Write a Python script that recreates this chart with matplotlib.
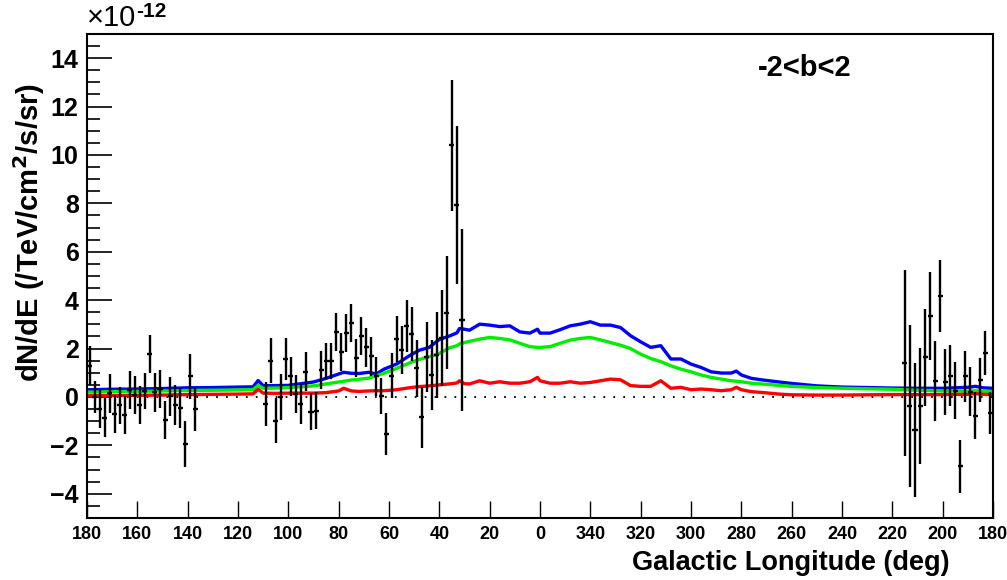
import numpy as np
import matplotlib.pyplot as plt
from matplotlib.ticker import MultipleLocator, FixedLocator

plt.rcParams['font.family'] = ['Liberation Sans', 'DejaVu Sans']

# flux points, galactic longitude (deg, 180..-180) , value (1e-12), error
lon_a = [179, 177, 175, 173, 171, 169, 167, 165, 163, 161, 159, 157, 155, 153,
         151, 149, 147, 145, 143, 141, 139, 137]
val_a = [1.3, 0.0, -0.5, -0.85, 0.15, -0.7, -0.35, -0.73, 0.3, 0.08, -0.33, 0.25,
         1.77, 0.2, 0.33, -0.95, 0.03, -0.33, -0.45, -1.95, 0.85, -0.5]
err_a = [0.8, 0.65, 0.8, 0.8, 0.8, 0.8, 0.78, 0.78, 0.78, 0.78, 0.78, 0.75,
         0.78, 0.8, 0.8, 0.8, 0.8, 0.82, 0.82, 0.95, 0.93, 0.9]

lon_b = [109, 107, 105, 103, 101, 99, 97, 95, 93, 91, 89, 87, 85, 83, 81, 79,
         77, 75, 73, 71, 69, 67, 65, 63, 61, 59, 57, 55, 53, 51, 49, 47, 45, 43,
         41, 39, 37, 35, 33, 31]
val_b = [-0.28, 1.5, -0.98, 0.0, 1.57, 0.85, 0.12, -0.29, 1.04, -0.6, -0.56, 1.13,
         1.5, 1.5, 2.69, 1.87, 2.64, 3.05, 1.6, 2.53, 2.05, 1.68, 0.85, 0.03,
         -1.53, 0.88, 2.39, 1.94, 2.94, 2.6, 1.18, -0.84, 1.66, 0.91, 1.72, 2.44,
         3.49, 10.4, 7.93, 3.19]
err_b = [0.9, 0.92, 0.92, 0.93, 0.85, 0.8, 0.8, 0.82, 0.8, 0.78, 0.76, 0.78,
         0.75, 0.74, 0.78, 0.79, 0.77, 0.78, 0.79, 0.78, 0.8, 0.8, 0.8, 0.75,
         0.88, 0.93, 0.96, 1.0, 1.07, 1.1, 1.17, 1.27, 1.44, 1.44, 1.78, 2.0,
         2.34, 2.7, 3.27, 3.76]

lon_c = [-145, -147, -149, -151, -153, -155, -157, -159, -161, -163, -165, -167,
         -169, -171, -173, -175, -177, -179]
val_c = [1.4, -0.36, -1.36, -0.36, 1.64, 3.35, 0.65, 4.18, 0.63, 0.88, 0.26, -2.86,
         0.85, 0.22, -0.77, 0.7, 1.81, -0.66]
err_c = [3.83, 3.35, 2.78, 2.4, 2.0, 1.83, 1.65, 1.48, 1.37, 1.26, 1.17, 1.1,
         1.05, 1.0, 0.96, 0.9, 0.9, 0.86]

# model curves (1e-12)
lon_m = [180, 170, 160, 150, 140, 130, 120, 114, 112, 110, 105, 100, 95, 90, 85,
         80, 78, 75, 72, 68, 65, 62, 57, 52, 48, 44, 40, 36, 33, 32, 30, 28, 24,
         20, 16, 12, 8, 4, 1, 0, -4, -8, -12, -16, -20, -24, -28, -32, -36, -40,
         -44, -48, -52, -56, -60, -64, -68, -72, -76, -78, -80, -84, -88, -95,
         -100, -110, -120, -130, -140, -150, -160, -170, -173, -176, -180]
blue = [0.30, 0.32, 0.33, 0.35, 0.38, 0.39, 0.41, 0.42, 0.68, 0.47, 0.47, 0.48,
        0.55, 0.62, 0.77, 0.95, 1.02, 0.98, 0.97, 1.02, 0.95, 1.15, 1.36, 1.70,
        1.93, 2.05, 2.38, 2.52, 2.65, 2.83, 2.80, 2.76, 3.01, 2.97, 2.91, 2.94,
        2.69, 2.64, 2.80, 2.64, 2.64, 2.78, 2.94, 3.01, 3.11, 2.97, 2.97, 2.87,
        2.53, 2.28, 2.05, 2.12, 1.57, 1.57, 1.36, 1.22, 1.04, 0.99, 0.99, 1.07,
        0.91, 0.77, 0.71, 0.62, 0.56, 0.46, 0.41, 0.39, 0.37, 0.36, 0.36, 0.40,
        0.44, 0.38, 0.36]
green = [0.20, 0.22, 0.23, 0.25, 0.27, 0.28, 0.29, 0.30, 0.48, 0.36, 0.37, 0.39,
         0.42, 0.46, 0.54, 0.62, 0.65, 0.70, 0.73, 0.78, 0.88, 0.98, 1.18, 1.40,
         1.55, 1.66, 1.80, 2.03, 2.12, 2.19, 2.25, 2.30, 2.39, 2.46, 2.42, 2.36,
         2.22, 2.08, 2.05, 2.05, 2.08, 2.22, 2.35, 2.42, 2.46, 2.36, 2.25, 2.14,
         2.00, 1.77, 1.59, 1.46, 1.29, 1.15, 1.04, 0.91, 0.81, 0.74, 0.67, 0.65,
         0.63, 0.57, 0.54, 0.48, 0.44, 0.39, 0.36, 0.34, 0.32, 0.28, 0.25, 0.24,
         0.26, 0.23, 0.22]
red = [0.05, 0.06, 0.07, 0.08, 0.10, 0.11, 0.12, 0.13, 0.32, 0.16, 0.15, 0.16,
       0.16, 0.16, 0.18, 0.25, 0.36, 0.25, 0.23, 0.25, 0.26, 0.26, 0.30, 0.38,
       0.43, 0.46, 0.50, 0.54, 0.58, 0.67, 0.55, 0.54, 0.67, 0.57, 0.63, 0.57,
       0.57, 0.63, 0.81, 0.67, 0.57, 0.57, 0.63, 0.57, 0.60, 0.67, 0.74, 0.71,
       0.47, 0.44, 0.44, 0.67, 0.36, 0.40, 0.30, 0.33, 0.30, 0.26, 0.30, 0.40,
       0.30, 0.22, 0.19, 0.12, 0.09, 0.08, 0.08, 0.09, 0.10, 0.10, 0.10, 0.11,
       0.14, 0.11, 0.10]

xticks = [180, 160, 140, 120, 100, 80, 60, 40, 20, 0, -20, -40, -60, -80,
          -100, -120, -140, -160, -180]

fig = plt.figure(figsize=(10.07, 5.8), dpi=100)
ax = fig.add_axes([0.0864, 0.1069, 0.8997, 0.8345])

ax.plot([180, -180], [0, 0], color='black', lw=1.3, ls=(0, (1, 4.5)))
ax.plot(lon_m, blue, color='#0000ff', lw=2.4)
ax.plot(lon_m, green, color='#00ee00', lw=2.4)
ax.plot(lon_m, red, color='#ff0000', lw=2.4)

for lo, va, er in [(lon_a, val_a, err_a), (lon_b, val_b, err_b), (lon_c, val_c, err_c)]:
    ax.errorbar(lo, va, yerr=er, xerr=1, fmt='none', ecolor='black',
                elinewidth=1.7, capsize=0)

ax.set_xlim(180, -180)
ax.set_ylim(-5, 15)

ax.xaxis.set_major_locator(FixedLocator(xticks))
ax.set_xticklabels([str(int(t) % 360) if t != -180 else '180' for t in xticks])
ax.yaxis.set_major_locator(MultipleLocator(2))
ax.yaxis.set_minor_locator(MultipleLocator(0.5))
ax.tick_params(axis='x', direction='in', length=12, width=1, pad=6,
               labelsize=13, top=False)
ax.tick_params(axis='y', which='major', direction='in', length=18, width=1.2,
               pad=6, labelsize=18, right=False)
ax.tick_params(axis='y', which='minor', direction='in', length=9, width=1.2,
               right=False)
for lab in ax.get_xticklabels() + ax.get_yticklabels():
    lab.set_fontweight('bold')
for lab in ax.get_xticklabels():
    lab.set_family(['Liberation Sans Narrow', 'Liberation Sans'])
for sp in ax.spines.values():
    sp.set_linewidth(1.5)

fig.text(0.086, 0.945, '\u00d710', fontsize=21, ha='left', va='bottom')
fig.text(0.135, 0.963, '-12', fontsize=15, fontweight='bold', ha='left',
         va='bottom')
fig.text(0.943, 0.017, 'Galactic Longitude (deg)', fontsize=19.5, fontweight='bold',
         ha='right', va='baseline',
         family=['Liberation Sans Narrow', 'Liberation Sans'])
fig.text(0.029, 0.6, r'dN/dE (/TeV/cm$^{\mathbf{2}}$/s/sr)', fontsize=21,
         fontweight='bold', rotation=90, ha='center', va='center')
ax.text(0.74, 0.93, '-2<b<2', transform=ax.transAxes, fontsize=21,
        fontweight='bold', ha='left', va='center')

fig.savefig('out.png', dpi=100)
